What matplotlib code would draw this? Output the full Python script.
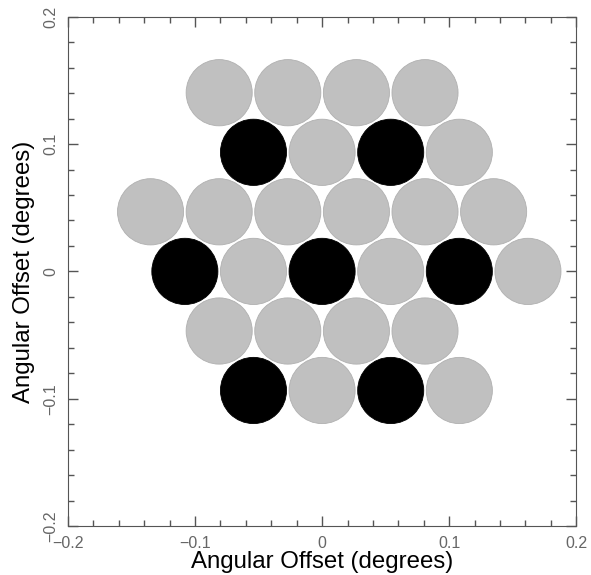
import matplotlib
matplotlib.use('Agg')
import matplotlib.pyplot as plt
from matplotlib.patches import Circle
from matplotlib.ticker import MultipleLocator, FuncFormatter

# beam centres (degrees) and whether each beam is filled black
row_y = [0.1403, 0.0935, 0.0468, 0.0, -0.0468, -0.0935]
row_x = [
    [-0.081, -0.027, 0.027, 0.081],
    [-0.054, 0.0, 0.054, 0.108],
    [-0.135, -0.081, -0.027, 0.027, 0.081, 0.135],
    [-0.108, -0.054, 0.0, 0.054, 0.108, 0.162],
    [-0.081, -0.027, 0.027, 0.081],
    [-0.054, 0.0, 0.054, 0.108],
]
row_black = [
    [0, 0, 0, 0],
    [1, 0, 1, 0],
    [0, 0, 0, 0, 0, 0],
    [1, 0, 1, 0, 1, 0],
    [0, 0, 0, 0],
    [1, 0, 1, 0],
]
beam_radius = 0.026

plt.rcParams['font.family'] = ['Liberation Sans', 'DejaVu Sans']

fig = plt.figure(figsize=(5.91, 5.75), dpi=100)
ax = fig.add_axes([0.115, 0.085, 0.86, 0.886])

for y, xs, flags in zip(row_y, row_x, row_black):
    for x, b in zip(xs, flags):
        if b:
            c = Circle((x, y), beam_radius, facecolor='black', edgecolor='black', lw=0.6)
        else:
            c = Circle((x, y), beam_radius, facecolor='#c0c0c0', edgecolor='#b0b0b0', lw=0.6)
        ax.add_patch(c)

ax.set_xlim(-0.2, 0.2)
ax.set_ylim(-0.2, 0.2)

def fmt(v, pos):
    s = '%g' % round(v, 3)
    return s.replace('-', '\u2212')

ax.xaxis.set_major_locator(MultipleLocator(0.1))
ax.yaxis.set_major_locator(MultipleLocator(0.1))
ax.xaxis.set_minor_locator(MultipleLocator(0.02))
ax.yaxis.set_minor_locator(MultipleLocator(0.02))
ax.xaxis.set_major_formatter(FuncFormatter(fmt))
ax.yaxis.set_major_formatter(FuncFormatter(fmt))
ax.tick_params(which='both', direction='in', top=True, right=True,
               color='#555555', labelcolor='#666666', labelsize=11.5)
ax.tick_params(which='major', length=7, width=1, pad=7)
ax.tick_params(which='minor', length=4, width=1)
for lab in ax.get_yticklabels():
    lab.set_rotation(90)
    lab.set_va('center')
for s in ax.spines.values():
    s.set_color('#555555')

ax.set_xlabel('Angular Offset (degrees)', fontsize=17.3, labelpad=0)
ax.set_ylabel('Angular Offset (degrees)', fontsize=17.3, labelpad=6)

fig.savefig('out.png', dpi=100)
